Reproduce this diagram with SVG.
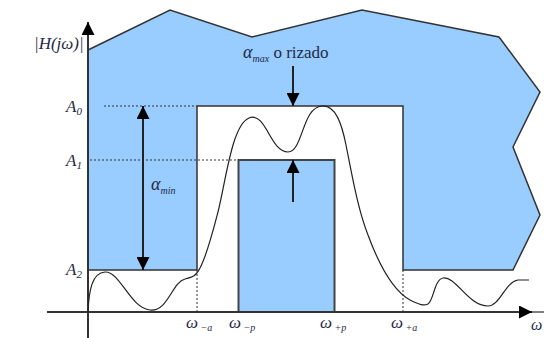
<svg xmlns="http://www.w3.org/2000/svg" width="544" height="338" viewBox="0 0 544 338">
<style>
text{font-family:"Liberation Serif","DejaVu Serif",serif;fill:#1f2a44}
.m{font-style:italic}
.ax{stroke:#333;stroke-width:2;fill:none}
.dot{stroke:#333;stroke-width:1;stroke-dasharray:2,2;fill:none}
.ar{stroke:#222;stroke-width:2;fill:none}
</style>
<defs>
<marker id="ahb" viewBox="0 0 10 10" refX="10" refY="5" markerWidth="18" markerHeight="13" markerUnits="userSpaceOnUse" orient="auto">
<path d="M0,0 L10,5 L0,10 z" fill="#000"/>
</marker>
</defs>
<g id="mask">
<path d="M88,50 L170,10 L252,37 L362,10 L499,37 L540,92 L513,147 L540,215 L513,270 L403,270 L403,106 L197,106 L197,270 L88,270 Z" fill="#99ccff" stroke="#333" stroke-width="1.5"/>
<rect x="238.5" y="160" width="96" height="152" fill="#99ccff" stroke="#444" stroke-width="2"/>
</g>
<g id="guides">
<path class="dot" d="M104,106 H197 M90,160 H238 M197,270 V312 M403,270 V312"/>
</g>
<g id="axes">
<line class="ax" x1="47" y1="312" x2="532" y2="312" marker-end="url(#ahb)"/>
<line x1="530" y1="312" x2="544" y2="312" stroke="#000" stroke-width="1"/>
<line class="ax" x1="88" y1="338" x2="88" y2="22" marker-end="url(#ahb)"/>
</g>
<g id="curve">
<path d="M88,312 C89,290 92,273 105,272 C120,271 130,308 150,310 C168,312 172,282 185,279 C193,277 196,276 200,268 C207,255 212,235 218,212 C226,180 232,125 249,118 C266,111 270,152 288,152 C303,152 302,107 322,106 C336,105 342,125 346,145 C352,175 358,210 368,235 C378,262 392,290 410,300 C420,305 424,306 428,304 C434,300 434,280 443,278 C456,276 468,306 488,306 C500,306 505,282 518,280 C522,280 526,280 529,280" fill="none" stroke="#222" stroke-width="1.2"/>
</g>
<g id="arrows">
<line class="ar" x1="143" y1="188" x2="143" y2="106" marker-end="url(#ahb)"/>
<line class="ar" x1="143" y1="188" x2="143" y2="270" marker-end="url(#ahb)"/>
<line class="ar" x1="293" y1="66" x2="293" y2="106" marker-end="url(#ahb)"/>
<line class="ar" x1="293" y1="202" x2="293" y2="160" marker-end="url(#ahb)"/>
</g>
<g id="labels">
<text class="m" x="34" y="49" font-size="17">|H(jω)|</text>
<text class="m" x="66" y="112" font-size="17">A<tspan font-size="11" dy="3">0</tspan></text>
<text class="m" x="66" y="166" font-size="17">A<tspan font-size="11" dy="3">1</tspan></text>
<text class="m" x="66" y="275" font-size="17">A<tspan font-size="11" dy="3">2</tspan></text>
<text class="m" x="151" y="190" font-size="18">α<tspan font-size="10" dy="4">min</tspan></text>
<text x="243" y="58" font-size="17"><tspan class="m" font-size="18">α</tspan><tspan class="m" font-size="10" dy="4">max</tspan><tspan dy="-4"> o rizado</tspan></text>
<text class="m" x="186" y="328" font-size="17">ω<tspan font-size="10" dy="3"> −a</tspan></text>
<text class="m" x="229" y="328" font-size="17">ω<tspan font-size="10" dy="3"> −p</tspan></text>
<text class="m" x="320" y="328" font-size="17">ω<tspan font-size="10" dy="3"> +p</tspan></text>
<text class="m" x="391" y="328" font-size="17">ω<tspan font-size="10" dy="3"> +a</tspan></text>
<text class="m" x="531" y="330" font-size="16">ω</text>
</g>
</svg>
